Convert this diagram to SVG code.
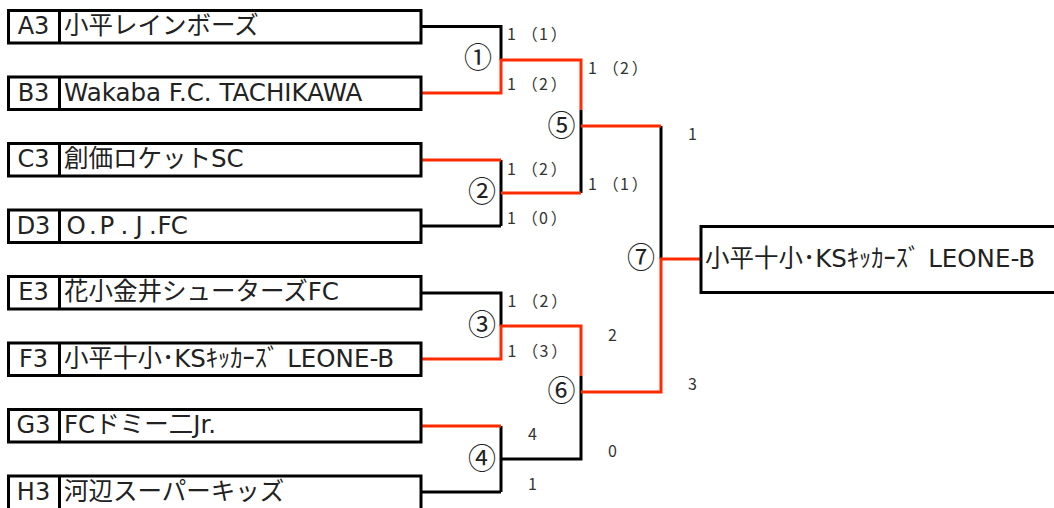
<svg xmlns="http://www.w3.org/2000/svg" width="1054" height="508" viewBox="0 0 1054 508">
<style>
.box{fill:#fff;stroke:#000;stroke-width:3}
.div{stroke:#000;stroke-width:3}
.team{font-family:"DejaVu Sans","Noto Sans CJK JP",sans-serif;font-size:24.5px;fill:#222}
.seed{font-family:"DejaVu Sans","Noto Sans CJK JP",sans-serif;font-size:24px;fill:#222;text-anchor:middle}
.bl{fill:none;stroke:#000;stroke-width:3}
.rd{fill:none;stroke:#ff2a00;stroke-width:3}
.sc{font-family:"Noto Sans CJK JP",sans-serif;font-size:16px;fill:#333}
.mn{font-family:"Noto Sans CJK JP",sans-serif;font-size:28px;fill:#222;text-anchor:middle}
</style>
<rect width="1054" height="508" fill="#fff"/>
<g id="connectors">
<path class="bl" d="M421 26.5H501V60M501 160V226M421 226H501M421 293H501V326M501 426V492M421 492H501M501 459H581V376M581 110V193M661 126V259"/>
<path class="rd" d="M421 93H501V60H581V110M581 126H661M421 160H501M501 193H581M421 359H501V326H581V376M581 392H661V259H701M421 426H501"/>
</g>
<g id="team-A"><rect class="box" x="8.5" y="10.5" width="412.5" height="32.5"/><line class="div" x1="59.5" y1="10.5" x2="59.5" y2="43"/><text class="seed" x="33.5" y="34">A3</text><text class="team" x="64" y="34">小平レインボーズ</text></g>
<g id="team-B"><rect class="box" x="8.5" y="77" width="412.5" height="32.5"/><line class="div" x1="59.5" y1="77" x2="59.5" y2="109.5"/><text class="seed" x="33.5" y="100.5">B3</text><text class="team" x="64" y="100.5">Wakaba F.C. TACHIKAWA</text></g>
<g id="team-C"><rect class="box" x="8.5" y="143.5" width="412.5" height="32.5"/><line class="div" x1="59.5" y1="143.5" x2="59.5" y2="176"/><text class="seed" x="33.5" y="167">C3</text><text class="team" x="64" y="167">創価ロケットSC</text></g>
<g id="team-D"><rect class="box" x="8.5" y="210" width="412.5" height="32.5"/><line class="div" x1="59.5" y1="210" x2="59.5" y2="242.5"/><text class="seed" x="33.5" y="233.5">D3</text><text class="team" x="66.5 89 99.6 120.5 135.5 149 157.6 170.7" y="233.5">O.P.J.FC</text></g>
<g id="team-E"><rect class="box" x="8.5" y="276.5" width="412.5" height="32.5"/><line class="div" x1="59.5" y1="276.5" x2="59.5" y2="309"/><text class="seed" x="33.5" y="300">E3</text><text class="team" x="64" y="300">花小金井シューターズFC</text></g>
<g id="team-F"><rect class="box" x="8.5" y="343" width="412.5" height="32.5"/><line class="div" x1="59.5" y1="343" x2="59.5" y2="375.5"/><text class="seed" x="33.5" y="366.5">F3</text><text class="team" x="64" y="366.5">小平十小･KSｷｯｶｰｽﾞ LEONE-B</text></g>
<g id="team-G"><rect class="box" x="8.5" y="409.5" width="412.5" height="32.5"/><line class="div" x1="59.5" y1="409.5" x2="59.5" y2="442"/><text class="seed" x="33.5" y="433">G3</text><text class="team" x="64" y="433">FCドミー二Jr.</text></g>
<g id="team-H"><rect class="box" x="8.5" y="476" width="412.5" height="40"/><line class="div" x1="59.5" y1="476" x2="59.5" y2="516"/><text class="seed" x="33.5" y="499.5">H3</text><text class="team" x="64" y="499.5">河辺スーパーキッズ</text></g>
<g id="winner"><rect class="box" x="701" y="226.5" width="360" height="66"/><text class="team" x="705" y="267">小平十小･KSｷｯｶｰｽﾞ LEONE-B</text></g>
<g id="match-labels">
<text class="mn" x="478" y="68">①</text>
<text class="mn" x="482" y="201.5">②</text>
<text class="mn" x="482" y="335">③</text>
<text class="mn" x="482" y="468.5">④</text>
<text class="mn" x="561.5" y="135.5">⑤</text>
<text class="mn" x="561.5" y="400.5">⑥</text>
<text class="mn" x="641" y="267.5">⑦</text>
</g>
<g id="scores">
<text class="sc" transform="translate(507,40)" x="0 9 14.8 32 43.7">1 （1）</text>
<text class="sc" transform="translate(507,90)" x="0 9 14.8 32 43.7">1 （2）</text>
<text class="sc" transform="translate(588,73.5)" x="0 9 14.8 32 43.7">1 （2）</text>
<text class="sc" transform="translate(588,190)" x="0 9 14.8 32 43.7">1 （1）</text>
<text class="sc" transform="translate(507,174.5)" x="0 9 14.8 32 43.7">1 （2）</text>
<text class="sc" transform="translate(507,224)" x="0 9 14.8 32 43.7">1 （0）</text>
<text class="sc" transform="translate(507.5,307)" x="0 9 14.8 32 43.7">1 （2）</text>
<text class="sc" transform="translate(507.5,357)" x="0 9 14.8 32 43.7">1 （3）</text>
<text class="sc" x="688" y="140">1</text>
<text class="sc" x="608" y="341">2</text>
<text class="sc" x="688" y="390">3</text>
<text class="sc" x="528" y="440">4</text>
<text class="sc" x="608" y="457">0</text>
<text class="sc" x="528" y="490">1</text>
</g>
</svg>
